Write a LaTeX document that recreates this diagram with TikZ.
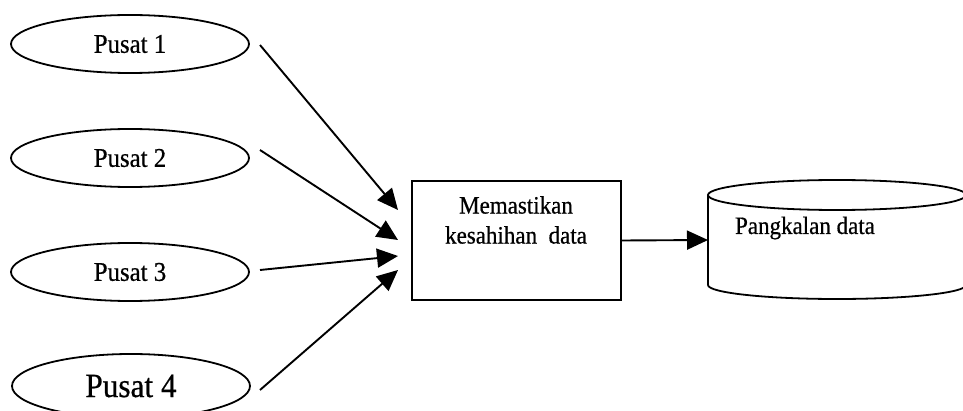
\documentclass[tikz,border=0pt]{standalone}
\usepackage{fontspec}
\setmainfont{Liberation Serif}[FakeBold=0.6,FakeStretch=0.92]
\usetikzlibrary{shapes.geometric,arrows.meta,calc}
\begin{document}
\begin{tikzpicture}[x=1pt,y=1pt,
  pusat/.style={draw,ellipse,line width=1.8pt,minimum width=238pt,minimum height=58pt,inner sep=0pt,font=\fontsize{27}{30}\selectfont},
  flow/.style={line width=1.9pt,-{Triangle[length=21pt,width=19pt]}},
  proc/.style={draw,line width=1.9pt,minimum width=209pt,minimum height=119pt,inner sep=0pt},
  lbl/.style={font=\fontsize{25}{30}\selectfont,align=center,inner sep=0pt}]
\useasboundingbox (0,0) rectangle (963,410);
\clip (0,0) rectangle (963,410);
\fill[white] (0,0) rectangle (963,410);
% source ellipses
\node[pusat] (p1) at (130,366) {Pusat 1};
\node[pusat] (p2) at (130,252) {Pusat 2};
\node[pusat] (p3) at (130,138) {Pusat 3};
\node[pusat,minimum height=64pt,font=\fontsize{34}{37}\selectfont] (p4) at (131,24) {Pusat 4};
% arrow starts and tips
\coordinate (s1) at (260,365);
\coordinate (s2) at (260,260);
\coordinate (s3) at (260,140);
\coordinate (s4) at (260,20);
\coordinate (t1) at (398,200);
\coordinate (t2) at (398,170);
\coordinate (t3) at (398,154);
\coordinate (t4) at (398,140);
% process box
\node[proc] (box) at (516.5,169.5) {};
\node[lbl] (boxtext) at (516,190) {Memastikan\\kesahihan\ \ data};
% database cylinder
\draw[line width=1.8pt] (837,215) ellipse [x radius=129,y radius=15];
\draw[line width=1.8pt] (708,215) -- (708,125) arc[start angle=180,end angle=360,x radius=129,y radius=14] -- (966,215);
\coordinate (dbw) at (708,170);
\node[lbl] (dbtext) at (805,182) {Pangkalan data};
% connectors
\draw[flow] (s1) -- (t1);
\draw[flow] (s2) -- (t2);
\draw[flow] (s3) -- (t3);
\draw[flow] (s4) -- (t4);
\draw[flow] (box.east) -- (dbw);
\end{tikzpicture}
\end{document}
